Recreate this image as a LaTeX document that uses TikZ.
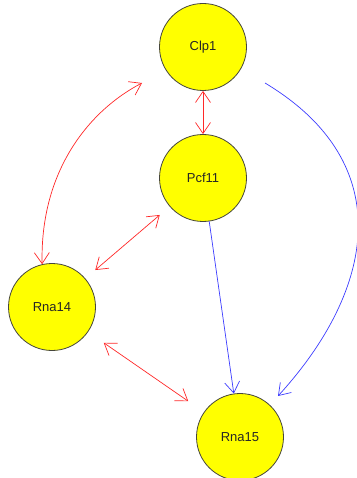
\documentclass[tikz,border=0pt]{standalone}
\usepackage{fontspec}
\setmainfont{Liberation Sans}
\usetikzlibrary{arrows.meta}
\definecolor{nodefill}{RGB}{255,255,0}
\definecolor{nodeline}{RGB}{70,70,60}
\definecolor{linkred}{RGB}{255,40,40}
\definecolor{linkblue}{RGB}{60,60,255}
\tikzset{
  protein/.style={circle, draw=nodeline, fill=nodefill, line width=0.8pt,
    minimum size=87pt, inner sep=0pt, font=\fontsize{13}{15}\selectfont, text=black!85},
  tip/.tip={Straight Barb[length=11pt,width=15pt,line width=0.7pt]},
  redlink/.style={draw=linkred, line width=0.7pt, {tip}-{tip}},
  bluelink/.style={draw=linkblue, line width=0.7pt, -{tip}},
}
\begin{document}
\begin{tikzpicture}[x=1pt,y=-1pt]
  \useasboundingbox (0,0) rectangle (356,478);
  % proteins
  \node[protein] (clp) at (203,47) {Clp1};
  \node[protein] (pcf) at (203,178) {Pcf11};
  \node[protein] (rna14) at (52,307) {Rna14};
  \node[protein] (rna15) at (240,437) {Rna15};
  % loose ends of the curved links
  \coordinate (clpW) at (142,83);
  \coordinate (clpE) at (265,83);
  \coordinate (rna15N) at (278,396);
  % mutual interactions
  \draw[redlink] (clp) -- (pcf);
  \draw[redlink, shorten <=13pt, shorten >=13pt] (pcf) -- (rna14);
  \draw[redlink, shorten <=19pt, shorten >=19pt] (rna14) -- (rna15);
  \draw[redlink] (rna14.103) .. controls (40,170) and (90,110) .. (clpW);
  % directed interactions
  \draw[bluelink] (pcf) -- (rna15);
  \draw[bluelink] (clpE) .. controls (400,164) and (374,291) .. (rna15N);
\end{tikzpicture}
\end{document}
